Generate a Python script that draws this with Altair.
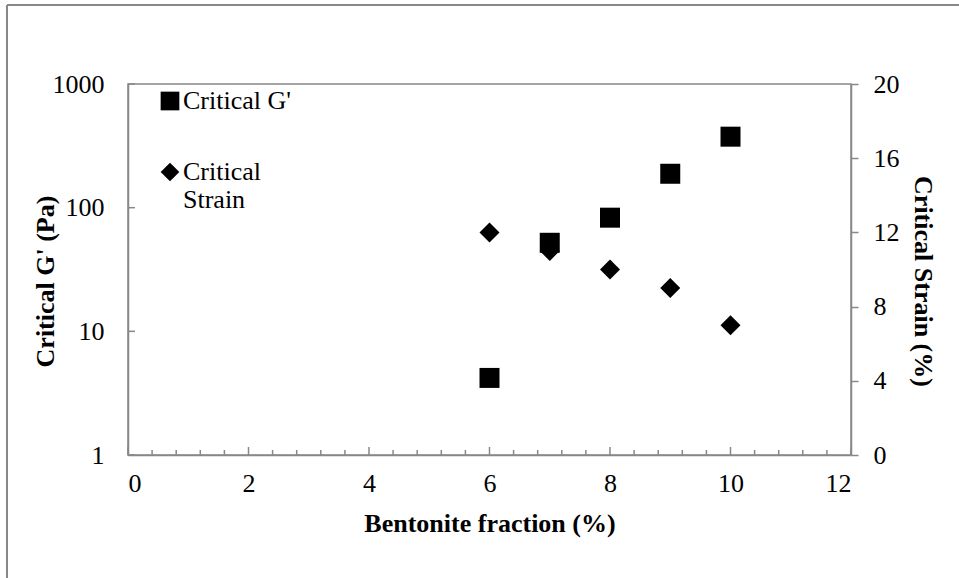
import altair as alt
import pandas as pd

# ---- data ----
fraction = [6, 7, 8, 9, 10]                       # Bentonite fraction (%)
critical_g = [4.2, 52, 83, 188, 375]              # Critical G' (Pa), log axis
critical_strain = [12, 11, 10, 9, 7]              # Critical Strain (%)
series = ["Critical G'", "Critical Strain"]

x_major = [0, 2, 4, 6, 8, 10, 12]
x_minor = [0.4, 0.8, 1.2, 1.6, 2.4, 2.8, 3.2, 3.6, 4.4, 4.8, 5.2, 5.6,
           6.4, 6.8, 7.2, 7.6, 8.4, 8.8, 9.2, 9.6, 10.4, 10.8, 11.2, 11.6]
y_left_ticks = [1, 10, 100, 1000]
y_right_ticks = [0, 4, 8, 12, 16, 20]

# ---- layout / style ----
W, H = 723, 371
PAD_L, PAD_T = 128, 84
FONT = "Liberation Serif"
FS = 26
GRAY = "#888888"

df_g = pd.DataFrame({"x": fraction, "v": critical_g, "s": series[0]})
df_s = pd.DataFrame({"x": fraction, "v": critical_strain, "s": series[1]})
df_major = pd.DataFrame({"x": x_major})
df_minor = pd.DataFrame({"x": x_minor})
df_lt = pd.DataFrame({"v": y_left_ticks})

xscale = alt.Scale(domain=[0, 12], nice=False)
yl_scale = alt.Scale(type="log", domain=[1, 1000], nice=False)
yr_scale = alt.Scale(domain=[0, 20], nice=False)
shape_scale = alt.Scale(domain=series, range=["square", "diamond"])

legend = alt.Legend(
    orient="none", legendX=29, legendY=4, title=None, padding=0,
    symbolSize=350, symbolFillColor="black", symbolStrokeWidth=0,
    labelFont=FONT, labelFontSize=FS, labelColor="black", labelLimit=400,
    labelOffset=0, rowPadding=45, labelBaseline="middle",
    labelExpr="datum.label == 'Critical Strain' ? ['Critical', 'Strain'] : datum.label",
)

x_axis = alt.Axis(
    values=x_major, title="Bentonite fraction (%)", ticks=False, grid=False,
    domainColor=GRAY, domainWidth=1.5,
    labelFont=FONT, labelFontSize=FS, labelColor="black", labelPadding=15,
    titleFont=FONT, titleFontSize=FS, titleFontWeight="bold", titleColor="black",
    titlePadding=14,
)

yl_axis = alt.Axis(
    values=y_left_ticks, title="Critical G' (Pa)", ticks=False, grid=False,
    domainColor=GRAY, domainWidth=1.5, format="d",
    labelFont=FONT, labelFontSize=FS, labelColor="black", labelPadding=24,
    titleFont=FONT, titleFontSize=FS, titleFontWeight="bold", titleColor="black",
    titleX=-70, titleY=197,
)

yr_axis = alt.Axis(
    orient="right", values=y_right_ticks, title="Critical Strain (%)",
    tickSize=7, tickColor=GRAY, tickWidth=1.5, grid=False,
    domainColor=GRAY, domainWidth=1.5,
    labelFont=FONT, labelFontSize=FS, labelColor="black", labelPadding=15,
    titleFont=FONT, titleFontSize=FS, titleFontWeight="bold", titleColor="black",
    titlePadding=10, titleY=197,
)

one = alt.Data(values=[{}])

frame_left = alt.Chart(one).mark_rule(color=GRAY, strokeWidth=2).encode(
    x=alt.value(7 - PAD_L), y=alt.value(5 - PAD_T), y2=alt.value(578 - PAD_T)
)
frame_top = alt.Chart(one).mark_rule(color=GRAY, strokeWidth=2).encode(
    x=alt.value(7 - PAD_L), x2=alt.value(959 - PAD_L), y=alt.value(5 - PAD_T)
)

squares = alt.Chart(df_g).mark_point(filled=True, size=400, color="black", opacity=1).encode(
    x=alt.X("x:Q", scale=xscale, axis=x_axis),
    y=alt.Y("v:Q", scale=yl_scale, axis=yl_axis),
    shape=alt.Shape("s:N", scale=shape_scale, legend=legend),
)

left_ticks = alt.Chart(df_lt).mark_rule(color=GRAY, strokeWidth=1.5).encode(
    y=alt.Y("v:Q", scale=yl_scale, axis=yl_axis),
    x=alt.value(0), x2=alt.value(7),
)

minor_ticks = alt.Chart(df_minor).mark_rule(color=GRAY, strokeWidth=1.5).encode(
    x=alt.X("x:Q", scale=xscale, axis=x_axis),
    y=alt.value(H), y2=alt.value(H - 5),
)
major_ticks = alt.Chart(df_major).mark_rule(color=GRAY, strokeWidth=1.5).encode(
    x=alt.X("x:Q", scale=xscale, axis=x_axis),
    y=alt.value(H), y2=alt.value(H - 8),
)

left = alt.layer(squares, left_ticks, minor_ticks, major_ticks, frame_left, frame_top)

diamonds = alt.Chart(df_s).mark_point(filled=True, size=400, color="black", opacity=1).encode(
    x=alt.X("x:Q", scale=xscale, axis=x_axis),
    y=alt.Y("v:Q", scale=yr_scale, axis=yr_axis),
    shape=alt.Shape("s:N", scale=shape_scale, legend=legend),
)

chart = (
    alt.layer(left, diamonds)
    .resolve_scale(y="independent")
    .properties(
        width=W, height=H,
        autosize=alt.AutoSizeParams(type="none"),
        padding={"left": PAD_L, "top": PAD_T, "right": 959 - PAD_L - W, "bottom": 578 - PAD_T - H},
        background="white",
    )
    .configure_view(stroke=GRAY, strokeWidth=1.5)
)

chart.save("out.html", embed_options={"renderer": "svg", "actions": False})
